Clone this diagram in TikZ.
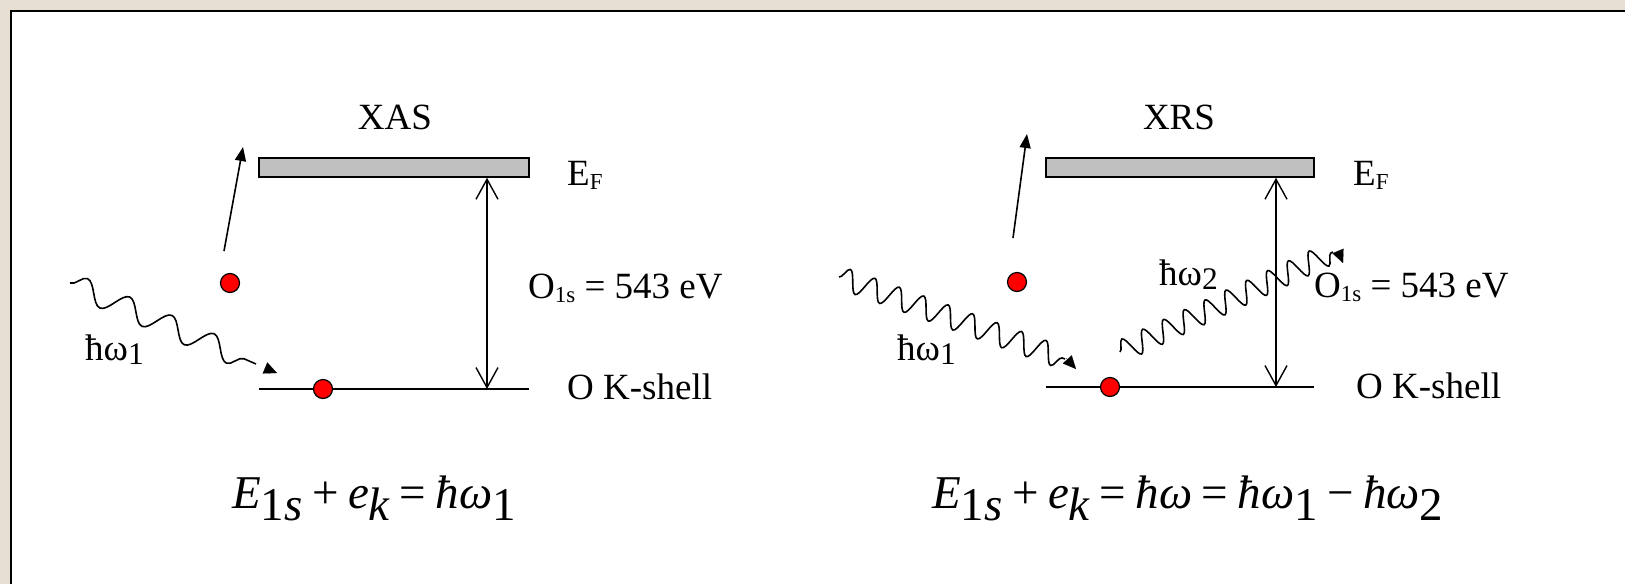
\documentclass[tikz,border=0pt]{standalone}
\usepackage{fontspec}
\usepackage{graphicx}
\setmainfont{Liberation Serif}
\newfontfamily\eqfont{Liberation Serif}
\usetikzlibrary{arrows.meta,decorations.pathmorphing}
\definecolor{paper}{RGB}{230,223,210}
\definecolor{barfill}{RGB}{192,192,192}
\newcommand{\lowsub}[2][0.62]{\raisebox{-0.28ex}{\scalebox{#1}{#2}}}
\newcommand{\eqsub}[1]{\raisebox{-0.27em}{#1}}
\newcommand{\eqgap}{\hspace{0.2em}}
\begin{document}
\begin{tikzpicture}[x=1pt,y=-1pt,
  lbl/.style={font=\fontsize{37}{42}\selectfont, inner sep=0pt},
  eqn/.style={font=\eqfont\fontsize{47}{54}\selectfont, inner sep=0pt},
  fermibar/.style={draw, fill=barfill, line width=1.6pt, inner sep=0pt, minimum height=19pt},
  level/.style={line width=1.6pt},
  gap/.style={line width=1.4pt, {Straight Barb[length=20pt,width=22pt]}-{Straight Barb[length=20pt,width=22pt]}},
  eject/.style={line width=1.6pt, -{Triangle[length=14pt,width=11pt]}},
  photon/.style={line width=1.6pt, decorate, decoration={snake, amplitude=11pt, segment length=#1}},
  tiphead/.style={line width=0.1pt, -{Triangle[length=13pt,width=12pt]}},
  electron/.style={circle, draw, fill=red, line width=1.2pt, minimum size=19pt, inner sep=0pt}
]
\useasboundingbox (0,0) rectangle (1625,584);
\fill[paper] (0,0) rectangle (1625,584);
\fill[white] (11,11) rectangle (1625,584);
\draw[line width=2.5pt] (11,584) -- (11,11) -- (1625,11);

% ---------------- XAS panel ----------------
\node[lbl, anchor=base] (titleA) at (395,129) {XAS};
\node[fermibar, minimum width=270pt] (barA) at (394,167.5) {};
\node[lbl, anchor=base west] (efA) at (567,185) {E\lowsub{F}};
\coordinate (kA1) at (259,389);
\coordinate (kA2) at (529,389);
\draw[level] (kA1) -- (kA2);
\coordinate (gA) at (487,389);
\draw[gap] (gA |- barA.south) -- (gA);
\node[lbl, anchor=base west] (oA) at (528,298) {O\lowsub{1s} = 543 eV};
\node[lbl, anchor=base west] (kshA) at (567,399) {O K-shell};
\node[electron] (eA1) at (323,389) {};
\node[electron] (eA2) at (230,283) {};
\coordinate (ejA0) at (224,251);
\coordinate (ejA1) at (243,147);
\draw[eject] (ejA0) -- (ejA1);
\coordinate (pA0) at (70,283);
\coordinate (pA1) at (256,364);
\draw[photon=46pt] (pA0) -- (pA1);
\coordinate (hA0) at (265,368);
\coordinate (hA1) at (277,373);
\draw[tiphead] (hA0) -- (hA1);
\node[lbl, anchor=base west] (wA) at (85,360) {ħω\lowsub[0.85]{1}};
\node[eqn, anchor=base west] (eqA) at (232,508)
  {\textit{E}\eqsub{1\textit{s}}\eqgap+\eqgap\textit{e}\eqsub{\textit{k}}\eqgap=\eqgap\textit{ħω}\eqsub{1}};

% ---------------- XRS panel ----------------
\node[lbl, anchor=base] (titleB) at (1179,129) {XRS};
\node[fermibar, minimum width=268pt] (barB) at (1180,167.5) {};
\node[lbl, anchor=base west] (efB) at (1353,185) {E\lowsub{F}};
\coordinate (kB1) at (1046,387);
\coordinate (kB2) at (1314,387);
\draw[level] (kB1) -- (kB2);
\coordinate (gB) at (1276,387);
\draw[gap] (gB |- barB.south) -- (gB);
\node[lbl, anchor=base west] (oB) at (1314,297) {O\lowsub{1s} = 543 eV};
\node[lbl, anchor=base west] (kshB) at (1356,398) {O K-shell};
\node[electron] (eB1) at (1110,387) {};
\node[electron] (eB2) at (1017,282) {};
\coordinate (ejB0) at (1013,238);
\coordinate (ejB1) at (1027,134);
\draw[eject] (ejB0) -- (ejB1);
\coordinate (pB0) at (839,277);
\coordinate (pB1) at (1065,359);
\draw[photon=26pt] (pB0) -- (pB1);
\coordinate (hB0) at (1066,358);
\coordinate (hB1) at (1076,369);
\draw[tiphead] (hB0) -- (hB1);
\coordinate (pC0) at (1120,352);
\coordinate (pC1) at (1333,252);
\draw[photon=23pt] (pC0) -- (pC1);
\coordinate (hC0) at (1338,251);
\coordinate (hC1) at (1343,263);
\draw[tiphead] (hC0) -- (hC1);
\node[lbl, anchor=base west] (wB1) at (897,360) {ħω\lowsub[0.85]{1}};
\node[lbl, anchor=base west] (wB2) at (1159,285) {ħω\lowsub[0.85]{2}};
\node[eqn, anchor=base west] (eqB) at (932,508)
  {\textit{E}\eqsub{1\textit{s}}\eqgap+\eqgap\textit{e}\eqsub{\textit{k}}\eqgap=\eqgap\textit{ħω}\eqgap=\eqgap\textit{ħω}\eqsub{1}\eqgap\textminus\eqgap\textit{ħω}\eqsub{2}};
\end{tikzpicture}
\end{document}
